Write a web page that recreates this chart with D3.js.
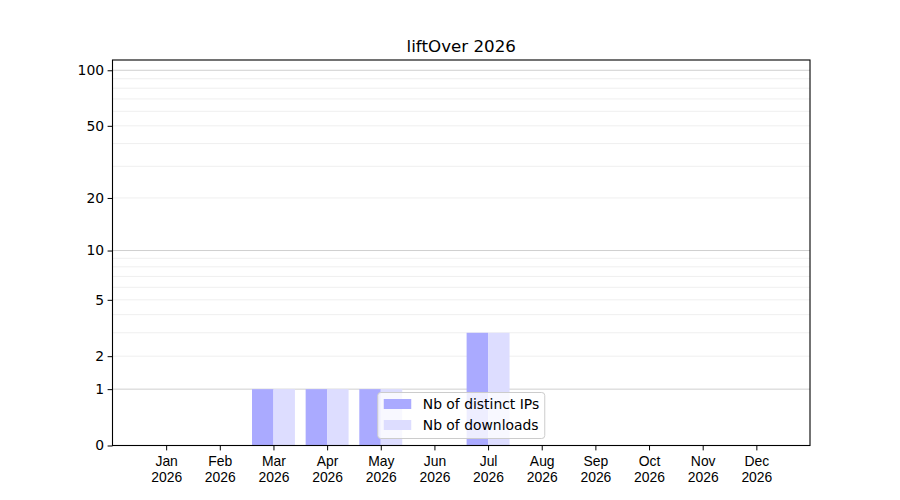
<!DOCTYPE html>
<html>
<head>
<meta charset="utf-8">
<script src="https://cdn.jsdelivr.net/npm/d3@7"></script>
<style>
  body { margin: 0; background: #fff; }
  svg { display: block; font-family: "DejaVu Sans", sans-serif; }
</style>
</head>
<body>
<svg id="chart" width="900" height="500"></svg>
<script>
// data
const months = ["Jan", "Feb", "Mar", "Apr", "May", "Jun", "Jul", "Aug", "Sep", "Oct", "Nov", "Dec"];
const yearLabel = "2026";
const distinctIPs = [0, 0, 1, 1, 1, 0, 3, 0, 0, 0, 0, 0];
const downloads = [0, 0, 1, 1, 1, 0, 3, 0, 0, 0, 0, 0];
const yTicks = [0, 1, 2, 5, 10, 20, 50, 100];
const majorGrid = [1, 10, 100];
const minorGrid = [2, 3, 4, 5, 6, 7, 8, 9, 20, 30, 40, 50, 60, 70, 80, 90];
const seriesNames = ["Nb of distinct IPs", "Nb of downloads"];
const seriesColors = ["#aaaaff", "#ddddff"];
const chartTitle = "liftOver 2026";

const svg = d3.select('#chart');
const plotL = 112.5, plotR = 810, plotT = 60, plotB = 445.5;
const fontSize = 13.9;

const x = d3.scaleLinear().domain([-1, 12]).range([plotL, plotR]);
// y looks like log10(1 + v), i.e. symlog with constant 1
const y = d3.scaleSymlog().constant(1).domain([0, 113.6]).range([plotB, plotT]);

// grid lines
const grid = svg.append("g").attr("class", "grid");
grid.selectAll("line.minor")
    .data(minorGrid)
    .enter().append("line")
    .attr("class", "minor")
    .attr("x1", plotL).attr("x2", plotR)
    .attr("y1", d => y(d)).attr("y2", d => y(d))
    .attr("stroke", "#efefef")
    .attr("stroke-width", 1);
grid.selectAll("line.major")
    .data(majorGrid)
    .enter().append("line")
    .attr("class", "major")
    .attr("x1", plotL).attr("x2", plotR)
    .attr("y1", d => y(d)).attr("y2", d => y(d))
    .attr("stroke", "#cfcfcf")
    .attr("stroke-width", 1);

// bars
const barW = 0.4;
const bars = svg.append("g").attr("class", "bars");
[distinctIPs, downloads].forEach((vals, s) => {
    bars.selectAll("rect.s" + s)
        .data(vals.map((v, i) => ({ i, v })).filter(d => d.v > 0))
        .enter().append("rect")
        .attr("class", "s" + s)
        .attr("x", d => x(d.i + (s === 0 ? -barW : 0)))
        .attr("width", d => x(barW) - x(0))
        .attr("y", d => y(d.v))
        .attr("height", d => y(0) - y(d.v))
        .attr("fill", seriesColors[s]);
});

// axes
const xAxis = svg.append("g")
    .attr("transform", `translate(0,${plotB})`)
    .call(d3.axisBottom(x).tickValues(d3.range(months.length)).tickSize(4.9).tickPadding(3.5).tickFormat(""));
xAxis.select(".domain").remove();
xAxis.selectAll(".tick text").remove();
xAxis.selectAll(".tick").each(function(d) {
    const t = d3.select(this).append("text")
        .attr("fill", "#000")
        .attr("text-anchor", "middle")
        .attr("font-size", fontSize);
    t.append("tspan").attr("x", 0).attr("y", 20.5).text(months[d]);
    t.append("tspan").attr("x", 0).attr("y", 36.5).text(yearLabel);
});

const yAxis = svg.append("g")
    .attr("transform", `translate(${plotL},0)`)
    .call(d3.axisLeft(y).tickValues(yTicks).tickSize(4.9).tickPadding(3.5).tickFormat(d3.format("d")));
yAxis.select(".domain").remove();
yAxis.selectAll(".tick text").attr("font-size", fontSize).attr("fill", "#000").attr("font-family", "DejaVu Sans");
svg.selectAll(".tick line").attr("stroke", "#000").attr("stroke-width", 1);

// frame
svg.append("rect")
    .attr("x", plotL).attr("y", plotT)
    .attr("width", plotR - plotL).attr("height", plotB - plotT)
    .attr("fill", "none")
    .attr("stroke", "#000")
    .attr("stroke-width", 1.1);

// title
svg.append("text")
    .attr("x", (plotL + plotR) / 2)
    .attr("y", plotT - 8.5)
    .attr("text-anchor", "middle")
    .attr("font-size", 16.7)
    .text(chartTitle);

// legend, lower center
const legW = 167, legH = 46;
const legX = (plotL + plotR) / 2 - legW / 2, legY = plotB - 7 - legH;
const legend = svg.append("g").attr("transform", `translate(${legX},${legY})`);
legend.append("rect")
    .attr("width", legW).attr("height", legH)
    .attr("rx", 3)
    .attr("fill", "#fff").attr("fill-opacity", 0.8)
    .attr("stroke", "#cccccc").attr("stroke-width", 1);
seriesNames.forEach((name, k) => {
    legend.append("rect")
        .attr("x", 6).attr("y", 6.5 + k * 21)
        .attr("width", 27.5).attr("height", 10)
        .attr("fill", seriesColors[k]);
    legend.append("text")
        .attr("x", 45).attr("y", 16.5 + k * 21)
        .attr("font-size", fontSize)
        .text(name);
});
</script>
</body>
</html>
